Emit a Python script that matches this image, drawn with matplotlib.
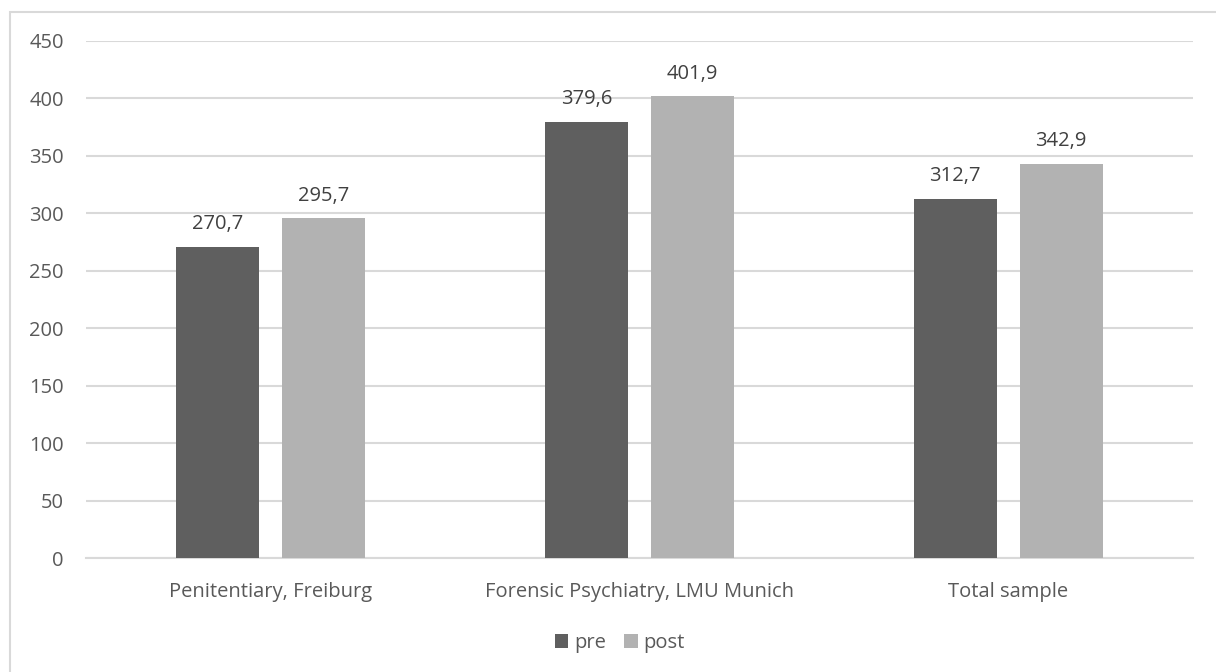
import matplotlib.pyplot as plt
from matplotlib.patches import Rectangle
import numpy as np

categories = ['Penitentiary, Freiburg', 'Forensic Psychiatry, LMU Munich', 'Total sample']
pre = [270.7, 379.6, 312.7]
post = [295.7, 401.9, 342.9]
series_names = ['pre', 'post']
yticks = [0, 50, 100, 150, 200, 250, 300, 350, 400, 450]

plt.rcParams['font.family'] = ['Open Sans', 'DejaVu Sans']
text_col = '#595959'
fs = 14.5

fig = plt.figure(figsize=(12.16, 6.72), dpi=100)
ax = fig.add_axes([0.0707, 0.1696, 0.9100, 0.7694])

# chart frame (only top and left edges show)
fig.patches.append(Rectangle((10 / 1216, -0.1), 1.2, 1 - 12 / 672 + 0.1,
                             transform=fig.transFigure, fill=False,
                             edgecolor='#d9d9d9', linewidth=1.5))

x = np.arange(len(categories))
w = 0.225
off = 0.1435
b1 = ax.bar(x - off, pre, w, color='#5f5f5f', label=series_names[0], zorder=3)
b2 = ax.bar(x + off, post, w, color='#b2b2b2', label=series_names[1], zorder=3)

for bars, vals in [(b1, pre), (b2, post)]:
    for b, v in zip(bars, vals):
        ax.text(b.get_x() + b.get_width() / 2, v + 11, f'{v:.1f}'.replace('.', ','),
                ha='center', va='bottom', fontsize=fs, color='#404040')

ax.set_xlim(-0.5, 2.5)
ax.set_ylim(0, 450)
ax.set_yticks(yticks)
ax.set_xticks(x)
ax.set_xticklabels(categories)
ax.tick_params(axis='both', length=0, labelsize=fs, labelcolor=text_col)
ax.tick_params(axis='y', pad=16)
ax.tick_params(axis='x', pad=17)
ax.yaxis.grid(True, color='#d9d9d9', linewidth=1.5, zorder=0)
for s in ['top', 'right', 'left']:
    ax.spines[s].set_visible(False)
ax.spines['bottom'].set_color('#d9d9d9')
ax.spines['bottom'].set_linewidth(1.5)

leg = fig.legend(loc='center', bbox_to_anchor=(0.51, 1 - 643 / 672), ncol=2,
                 frameon=False, fontsize=fs, handlelength=0.65, handleheight=0.65,
                 handletextpad=0.3, columnspacing=0.9)
for t in leg.get_texts():
    t.set_color(text_col)

fig.savefig('out.png', dpi=100)
